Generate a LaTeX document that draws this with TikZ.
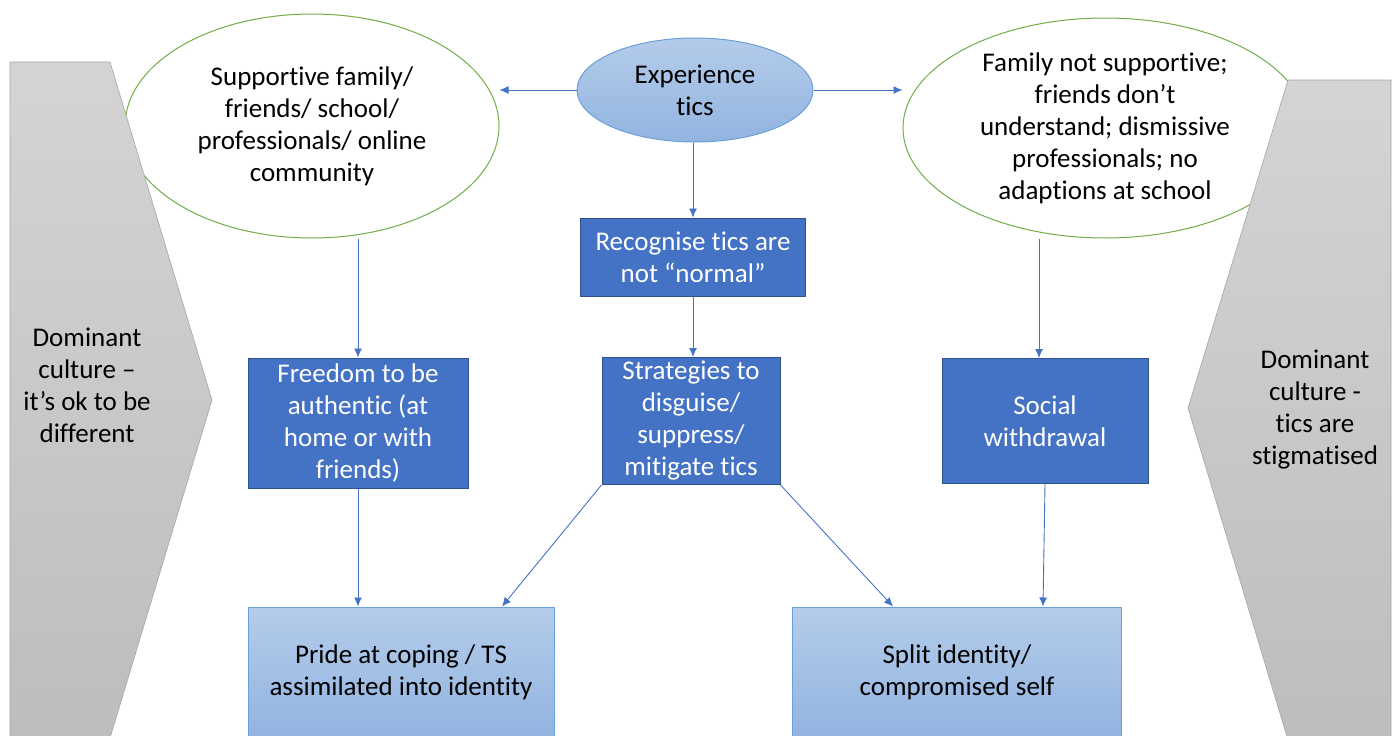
\documentclass[tikz,border=0pt]{standalone}
\usepackage{fontspec}
\setmainfont[Ligatures=NoCommon]{Carlito}
\usetikzlibrary{arrows.meta,shapes.geometric}

\definecolor{darkfill}{HTML}{4472C4}
\definecolor{darkedge}{HTML}{2F528F}
\definecolor{lightedge}{HTML}{6A9FD8}
\definecolor{lighttop}{HTML}{B4CCEA}
\definecolor{lightbot}{HTML}{92B4E0}
\definecolor{bubbleedge}{HTML}{70AD47}
\definecolor{greytop}{HTML}{D4D4D4}
\definecolor{greybot}{HTML}{BDBDBD}
\definecolor{greyedge}{HTML}{A5A5A5}

\begin{document}
\begin{tikzpicture}[x=1pt,y=-1pt,
  txt/.style={font=\fontsize{27}{32}\selectfont, align=center, inner sep=0pt},
  bubble/.style={txt, ellipse, draw=bubbleedge, line width=1pt, fill=white},
  darkbox/.style={txt, rectangle, draw=darkedge, line width=1pt, fill=darkfill, text=white},
  lightbox/.style={txt, rectangle, draw=lightedge, line width=1pt, top color=lighttop, bottom color=lightbot},
  chevron/.style={draw=greyedge, line width=0.6pt, top color=greytop, bottom color=greybot},
  flow/.style={draw=darkfill, line width=0.9pt, -{Latex[length=9pt,width=8pt]}}]

  \useasboundingbox (0,0) rectangle (1398,736);
  \clip (0,0) rectangle (1398,736);

  % Support on either side
  \node[bubble, minimum width=374, minimum height=224] (sup) at (312,126)
    {Supportive family/\\friends/ school/\\professionals/ online\\community};
  \node[bubble, minimum width=404, minimum height=220] (fam) at (1105,128)
    {Family not supportive;\\friends don’t\\understand; dismissive\\professionals; no\\adaptions at school};

  % Dominant culture
  \path[chevron] (10,62) -- (110,62) -- (212,400) -- (110,738) -- (10,738) -- cycle;
  \node[txt] (domL) at (87,385) {Dominant\\culture –\\it’s ok to be\\different};
  \path[chevron] (1391,80) -- (1288,80) -- (1188,408) -- (1288,740) -- (1391,740) -- cycle;
  \node[txt] (domR) at (1315,410) {Dominant\\culture -\\tics are\\stigmatised};

  % Middle column
  \node[txt, ellipse, draw=lightedge, line width=1pt, top color=lighttop, bottom color=lightbot,
    minimum width=236, minimum height=104] (exp) at (695,90) {Experience\\tics};
  \node[darkbox, minimum width=225, minimum height=78] (rec) at (693,257)
    {Recognise tics are\\not “normal”};
  \node[darkbox, minimum width=178, minimum height=127] (strat) at (691,421)
    {Strategies to\\disguise/\\suppress/\\mitigate tics};

  % Outcomes
  \node[darkbox, minimum width=220, minimum height=130] (free) at (358,423)
    {Freedom to be\\authentic (at\\home or with\\friends)};
  \node[darkbox, minimum width=206, minimum height=125] (soc) at (1045,421)
    {Social\\withdrawal};
  \node[lightbox, minimum width=306, minimum height=130] (pride) at (401,672)
    {Pride at coping / TS\\assimilated into identity};
  \node[lightbox, minimum width=329, minimum height=130] (split) at (957,672)
    {Split identity/\\compromised self};

  % Arrows
  \draw[flow] (exp.west) -- (exp.west -| sup.east);
  \draw[flow] (exp.east) -- (exp.east -| fam.west);
  \draw[flow] (rec.north |- exp.south) -- (rec.north);
  \draw[flow] (rec.south) -- (rec.south |- strat.north);
  \draw[flow] (free.north |- sup.south) -- (free.north);
  \draw[flow] ([xshift=-6pt]soc.north |- fam.south) -- ([xshift=-6pt]soc.north);
  \draw[flow] (free.south) -- (free.south |- pride.north);
  \draw[flow] (strat.south west) -- ([xshift=101pt]pride.north);
  \draw[flow] (strat.south east) -- ([xshift=-64pt]split.north);
  \draw[flow] (soc.south) -- ([xshift=-2pt]soc.south |- split.north);
\end{tikzpicture}
\end{document}
